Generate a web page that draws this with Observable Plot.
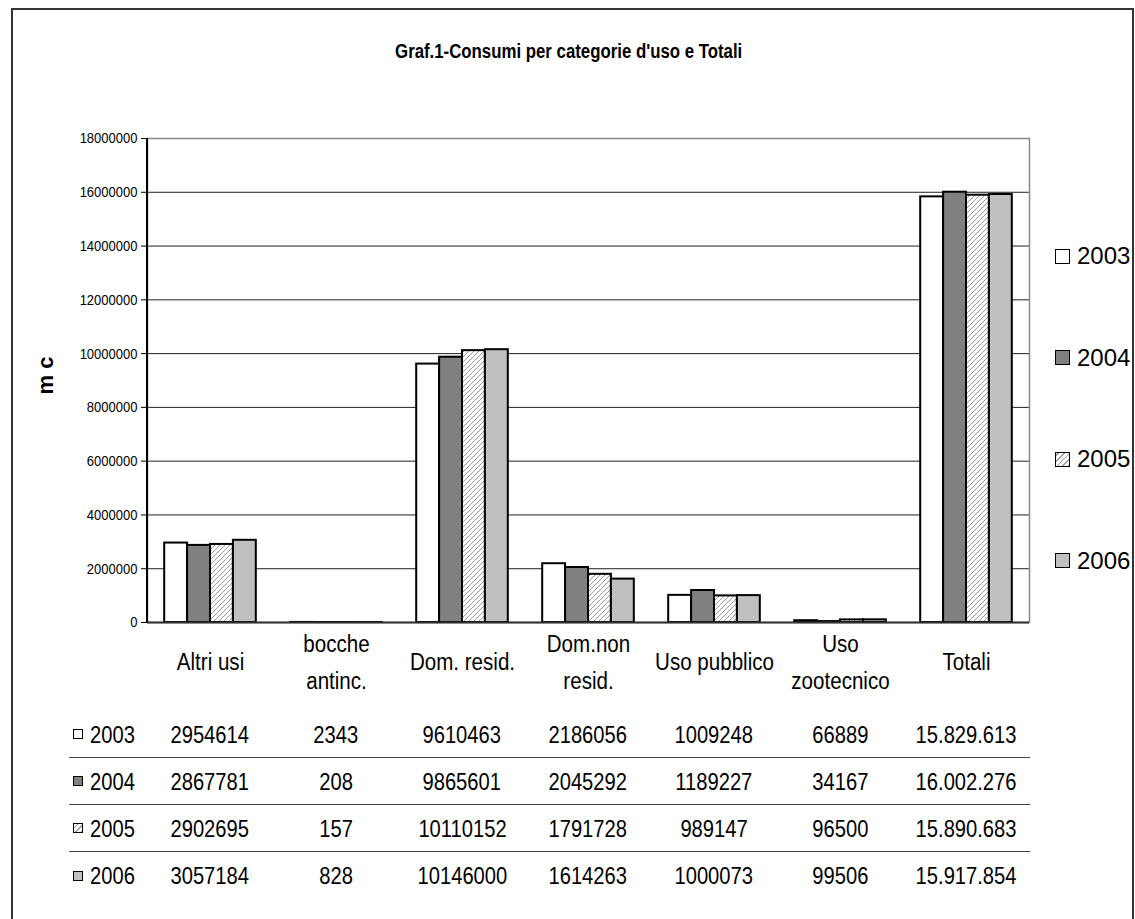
<!DOCTYPE html>
<html>
<head>
<meta charset="utf-8">
<script src="https://cdn.jsdelivr.net/npm/d3@7"></script>
<script src="https://cdn.jsdelivr.net/npm/@observablehq/plot@0.6"></script>
<style>
  html, body { margin: 0; padding: 0; background: #fff; }
  #chart { position: relative; width: 1135px; height: 919px; overflow: hidden;
           font-family: "Liberation Sans", Arial, sans-serif; color: #000; }
  #outer { position: absolute; left: 11px; top: 8px; width: 1123px; height: 940px; border: 2px solid #333; box-sizing: border-box; }
  #title { position: absolute; left: 0; width: 1138px; top: 39px; text-align: center; font-weight: bold; font-size: 20px; line-height: 24px; }
  .cx { display: inline-block; transform: scaleX(0.84); transform-origin: 50% 50%; white-space: nowrap; }
  .cxl { display: inline-block; transform: scaleX(0.84); transform-origin: 0 50%; white-space: nowrap; }
  #plot { position: absolute; left: 0; top: 0; }
  .leg { position: absolute; left: 1055px; height: 30px; display: flex; align-items: center;
         font-family: "Liberation Sans", Arial, sans-serif; font-size: 24px; }
  .sw { width: 13px; height: 13px; border: 1.5px solid #000; margin-right: 7px; }
  #table { position: absolute; left: 69px; top: 711px; width: 961px; }
  .row { display: flex; height: 47px; line-height: 47px; font-size: 24px; }
  .row.sep { border-bottom: 1px solid #444; box-sizing: border-box; }
  .hdr { width: 78px; display: flex; align-items: center; }
  .hdr .sq { width: 8px; height: 8px; border: 1.5px solid #000; margin: 0 7px 0 4px; }
  .cell { width: 126px; text-align: center; }
</style>
</head>
<body>
<div id="chart">
  <div id="outer"></div>
  <div id="title"></div>
  <div id="plot"></div>
  <div id="legend"></div>
  <div id="table"></div>
</div>
<script>
// ---- data ----
const categories = ["Altri usi", "bocche antinc.", "Dom. resid.", "Dom.non resid.", "Uso pubblico", "Uso zootecnico", "Totali"];
const categoryLabels = ["Altri usi", "bocche\nantinc.", "Dom. resid.", "Dom.non\nresid.", "Uso pubblico", "Uso\nzootecnico", "Totali"];
const years = ["2003", "2004", "2005", "2006"];
const values2003 = [2954614, 2343, 9610463, 2186056, 1009248, 66889, 15829613];
const values2004 = [2867781, 208, 9865601, 2045292, 1189227, 34167, 16002276];
const values2005 = [2902695, 157, 10110152, 1791728, 989147, 96500, 15890683];
const values2006 = [3057184, 828, 10146000, 1614263, 1000073, 99506, 15917854];
const yTicks = [0, 2000000, 4000000, 6000000, 8000000, 10000000, 12000000, 14000000, 16000000, 18000000];
const titleText = "Graf.1-Consumi per categorie d'uso e Totali";
const yLabel = "m c";

const series = [values2003, values2004, values2005, values2006];
const fills = ["#ffffff", "#808080", "url(#hatch2005)", "#c0c0c0"];
const swatchBg = ["#ffffff", "#808080", "repeating-linear-gradient(-45deg, #9a9a9a 0 1px, #ffffff 1px 4px)", "#c0c0c0"];

const rows = [];
years.forEach((y, i) => series[i].forEach((v, j) => rows.push({cat: categories[j], label: categoryLabels[j], year: y, value: v})));

const condense = 0.84;
function squeezed(text, cls) {
  const s = document.createElement("span");
  s.className = cls || "cx";
  s.textContent = text;
  return s;
}
document.getElementById("title").appendChild(squeezed(titleText));

// ---- plot ----
const W = 1135, H = 700;
const mL = 147, mR = 106, mT = 138, mB = H - 622;
const pad = 0.273;
const band = d3.scaleBand(categories, [mL, W - mR]).paddingInner(pad).paddingOuter(pad / 2);
const sub = band.bandwidth() / years.length;

const defs = () => {
  const d = d3.create("svg:defs");
  const p = d.append("pattern").attr("id", "hatch2005").attr("patternUnits", "userSpaceOnUse")
    .attr("width", 5).attr("height", 5);
  p.append("rect").attr("width", 5).attr("height", 5).attr("fill", "#fff");
  p.append("path").attr("d", "M-1,1 l2,-2 M0,5 l5,-5 M4,6 l2,-2").attr("stroke", "#9a9a9a").attr("stroke-width", 1);
  return d.node();
};
const leftLine = (index, scales, values, dims) => {
  const l = d3.create("svg:line")
    .attr("x1", dims.marginLeft).attr("x2", dims.marginLeft)
    .attr("y1", dims.marginTop).attr("y2", dims.height - dims.marginBottom)
    .attr("stroke", "#000").attr("stroke-width", 2);
  return l.node();
};

const plot = Plot.plot({
  width: W, height: H,
  marginLeft: mL, marginRight: mR, marginTop: mT, marginBottom: mB,
  style: {fontFamily: '"Liberation Sans", Arial, sans-serif', background: "transparent", color: "#000"},
  x: {type: "band", domain: categories, paddingInner: pad, paddingOuter: pad / 2, round: false, axis: null},
  y: {domain: [0, 18000000], axis: null},
  marks: [
    defs,
    Plot.ruleY(yTicks.filter(t => t > 0 && t < 18000000), {stroke: "#222", strokeWidth: 1}),
    Plot.frame({stroke: "#888", strokeWidth: 1.5}),
    ...years.map((y, i) => Plot.barY(rows.filter(r => r.year === y), {
      x: "cat", y: "value", fill: fills[i], stroke: "#000", strokeWidth: 2,
      insetLeft: i * sub, insetRight: (years.length - 1 - i) * sub
    })),
    Plot.ruleY([0], {stroke: "#333", strokeWidth: 2}),
    leftLine,
    Plot.axisY({ticks: yTicks, tickFormat: d => String(d), tickSize: 6, tickPadding: 4, fontSize: 15.5, label: null, anchor: "left"}),
    Plot.text(rows.filter(r => r.year === years[0]), {x: "cat", text: "label", frameAnchor: "bottom", dy: 36, lineAnchor: "middle", lineHeight: 1.52, fontSize: 24.5, fill: "#000"}),
    Plot.text([yLabel], {frameAnchor: "left", dx: -102, dy: 14, rotate: -90, fontWeight: "bold", fontSize: 22, fill: "#000"})
  ]
});
// horizontally condense the non-rotated texts, as in the reference
plot.querySelectorAll("text").forEach(t => {
  const tr = t.getAttribute("transform");
  if (tr && tr.includes("rotate")) return;
  if (tr) {
    t.setAttribute("transform", tr + ` scale(${condense},1)`);
  } else {
    const x = +(t.getAttribute("x") || 0), y = +(t.getAttribute("y") || 0);
    t.setAttribute("transform", `translate(${x},${y}) scale(${condense},1) translate(${-x},${-y})`);
  }
});
document.getElementById("plot").appendChild(plot);

// ---- legend ----
const legend = document.getElementById("legend");
years.forEach((y, i) => {
  const it = document.createElement("div");
  it.className = "leg";
  it.style.top = (241 + i * 101.5) + "px";
  const sw = document.createElement("div");
  sw.className = "sw";
  sw.style.background = swatchBg[i];
  it.appendChild(sw);
  it.appendChild(document.createTextNode(y));
  legend.appendChild(it);
});

// ---- data table ----
const fmtTot = d => d3.format(",")(d).replace(/,/g, ".");
const table = document.getElementById("table");
years.forEach((y, i) => {
  const r = document.createElement("div");
  r.className = "row" + (i < years.length - 1 ? " sep" : "");
  const h = document.createElement("div");
  h.className = "hdr";
  const sq = document.createElement("div");
  sq.className = "sq";
  sq.style.background = swatchBg[i];
  h.appendChild(sq);
  h.appendChild(squeezed(y, "cxl"));
  r.appendChild(h);
  series[i].forEach((v, j) => {
    const c = document.createElement("div");
    c.className = "cell";
    c.appendChild(squeezed(j === categories.length - 1 ? fmtTot(v) : String(v)));
    r.appendChild(c);
  });
  table.appendChild(r);
});
</script>
</body>
</html>
